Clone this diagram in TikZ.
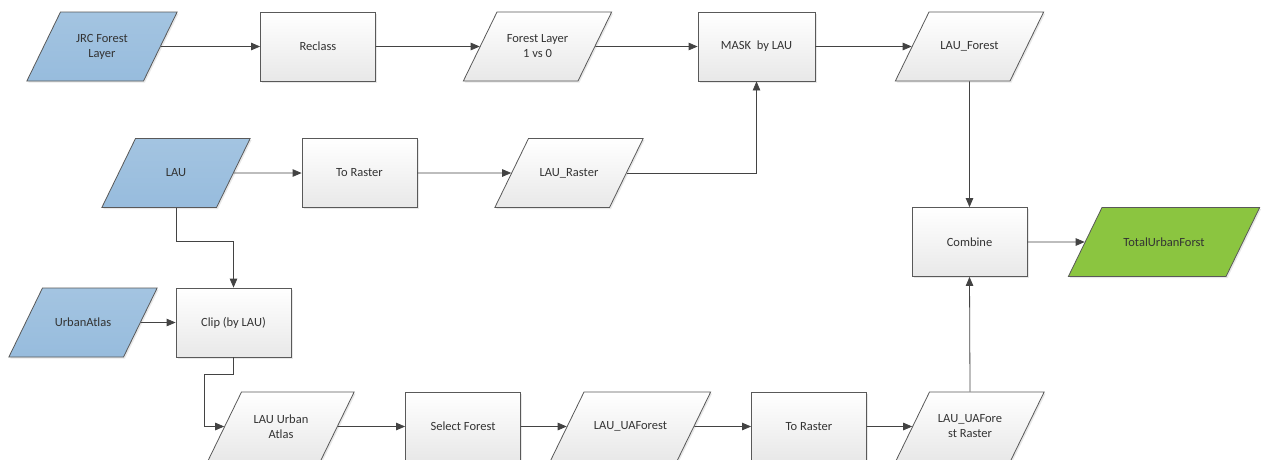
\documentclass[tikz,border=0pt]{standalone}
\usepackage{fontspec}
\setmainfont{Carlito}
\usetikzlibrary{shapes.geometric,arrows.meta,shadows}
\definecolor{edgegray}{HTML}{595959}
\definecolor{textgray}{HTML}{333333}
\definecolor{inputblue}{HTML}{97BCDD}
\definecolor{outputgreen}{HTML}{8BC540}

\begin{document}
\begin{tikzpicture}[x=1pt, y=1pt, font=\fontsize{12.5}{15}\selectfont, text=textgray]
 % --- styles ---
 \tikzset{
    process/.style={
        rectangle,
        draw=edgegray,
        line width=0.8pt,
        top color=white,
        bottom color=black!9,
        minimum width=115pt,
        minimum height=69pt,
        align=center,
        drop shadow={shadow xshift=1.5pt, shadow yshift=-1.5pt, opacity=0.18}
    },
    % parallelogram: the body is a fixed 69pt high box, the slant comes from the angle
    data/.style={
        trapezium,
        trapezium left angle=64,
        trapezium right angle=116,
        draw=edgegray,
        line width=0.8pt,
        top color=white,
        bottom color=black!9,
        inner sep=0pt,
        execute at begin node={\begin{minipage}[c][69pt][c]{#1}\centering},
        execute at end node={\end{minipage}},
        drop shadow={shadow xshift=1.5pt, shadow yshift=-1.5pt, opacity=0.18}
    },
    data/.default=81pt,
    source/.style={data=#1, top color=inputblue!88!white, bottom color=inputblue},
    source/.default=81pt,
    result/.style={data=#1, top color=outputgreen, bottom color=outputgreen},
    flow/.style={
        draw=edgegray!75!black,
        line width=0.8pt,
        -{Triangle[length=9pt, width=7.5pt]}
    }
 }

 \useasboundingbox (0,0) rectangle (1268,-459);
 \clip (0,0) rectangle (1268,-459);

 % --- top row: forest layer ---
 \node[source=83pt] (JRC) at (102,-46.5) {JRC Forest\\Layer};
 \node[process] (Reclass) at (318,-46.5) {Reclass};
 \node[data] (ForestLayer) at (537.5,-46.5) {Forest Layer\\1 vs 0};
 \node[process, minimum width=117pt] (Mask) at (756.5,-46.5) {MASK\ \ by LAU};
 \node[data] (LAUForest) at (969.5,-46.5) {LAU\_Forest};

 % --- second row: LAU ---
 \node[source] (LAU) at (176,-173) {LAU};
 \node[process] (ToRaster) at (359.5,-173) {To Raster};
 \node[data] (LAURaster) at (569,-173) {LAU\_Raster};

 % --- combine and output ---
 \node[process] (Combine) at (969.5,-242) {Combine};
 \node[result=124pt] (Total) at (1164,-242) {TotalUrbanForst};

 % --- urban atlas ---
 \node[source] (UrbanAtlas) at (83,-322.5) {UrbanAtlas};
 \node[process] (Clip) at (233.5,-322.5) {Clip (by LAU)};

 % --- bottom row ---
 \node[data=79pt] (LAUUrban) at (281,-426.5) {LAU Urban\\Atlas};
 \node[process] (Select) at (463,-426.5) {Select Forest};
 \node[data=93pt] (UAForest) at (630.5,-426.5) {LAU\_UAForest};
 \node[process] (ToRasterB) at (809,-426.5) {To Raster};
 \node[data] (UARaster) at (970,-426.5) {LAU\_UAFore\\st Raster};

 % --- connectors ---
 \draw[flow] (JRC.east) -- (Reclass.west);
 \draw[flow] (Reclass.east) -- (ForestLayer.west);
 \draw[flow] (ForestLayer.east) -- (Mask.west);
 \draw[flow] (Mask.east) -- (LAUForest.west);
 \draw[flow] (LAUForest.south) -- (Combine.north);

 \draw[flow] (LAU.east) -- (ToRaster.west);
 \draw[flow] (ToRaster.east) -- (LAURaster.west);
 \draw[flow] (LAURaster.east) -| (Mask.south);

 \draw[flow] (LAU.south) -- ++(0,-33) -| (Clip.north);
 \draw[flow] (UrbanAtlas.east) -- (Clip.west);
 \draw[flow] (Clip.south) -- ++(0,-17) -- ++(-29.5,0) |- (LAUUrban.west);

 \draw[flow] (LAUUrban.east) -- (Select.west);
 \draw[flow] (Select.east) -- (UAForest.west);
 \draw[flow] (UAForest.east) -- (ToRasterB.west);
 \draw[flow] (ToRasterB.east) -- (UARaster.west);
 \draw[flow] (UARaster.north) -- (Combine.south);

 \draw[flow] (Combine.east) -- (Total.west);
\end{tikzpicture}
\end{document}
